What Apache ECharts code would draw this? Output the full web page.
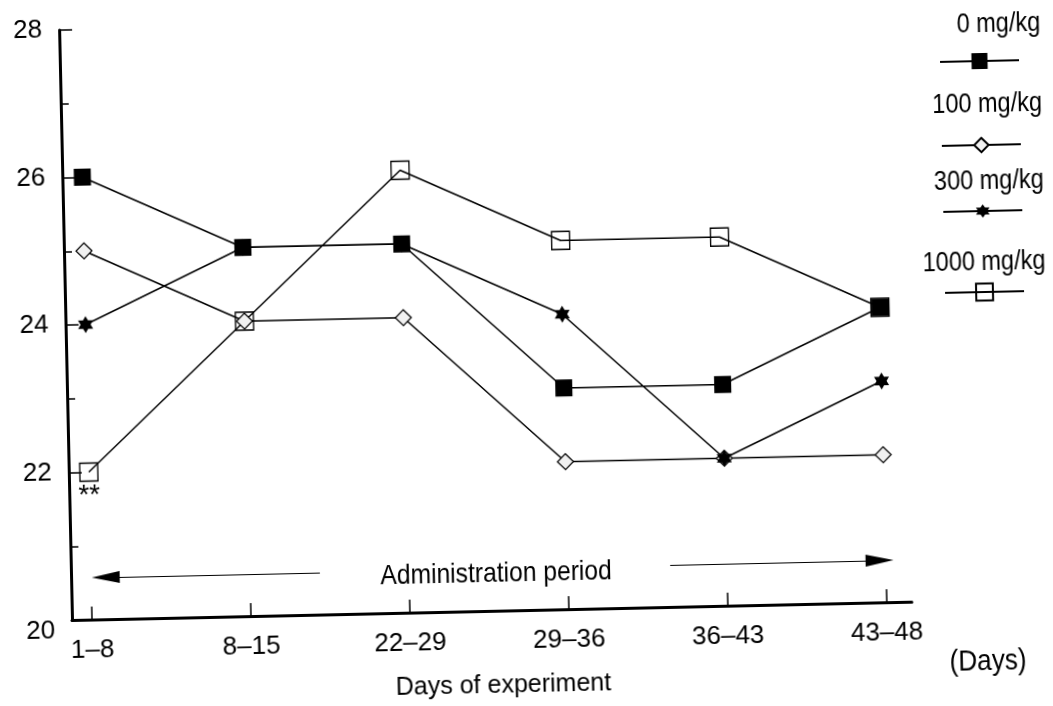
<!DOCTYPE html>
<html>
<head>
<meta charset="utf-8">
<script src="https://cdn.jsdelivr.net/npm/echarts@6/dist/echarts.min.js"></script>
<style>
html, body { margin: 0; padding: 0; overflow: hidden; background: #fff; width: 1053px; height: 706px; }
#c { position: absolute; left: 0; top: 0; width: 1120px; height: 760px;
     transform-origin: 72px 620px; transform: rotate(-1.25deg); }
</style>
</head>
<body>
<div id="c"></div>
<script>
// ---- data ----
const categories = ['1–8', '8–15', '22–29', '29–36', '36–43', '43–48'];
const seriesNames = ['0 mg/kg', '100 mg/kg', '300 mg/kg', '1000 mg/kg'];
const dose0 = [26, 25, 25, 23, 23, 24];
const dose100 = [25, 24, 24, 22, 22, 22];
const dose300 = [24, 25, 25, 24, 22, 23];
const dose1000 = [22, 24, 26, 25, 25, 24];
const marks1000 = ['**', '', '', '', '', ''];
const yTickValues = [20, 22, 24, 26, 28];
const arrowSpans = [[1.44, 0.092], [3.645, 4.963]];
const arrowLevel = 20.57;

// ---- styles ----
const NARROW = "'Liberation Sans Narrow', 'Arial Narrow', 'Liberation Sans', Arial, sans-serif";
const REG = "'Liberation Sans', Arial, sans-serif";
const hexagram = 'path://M0,-10 L2.887,-5 L8.66,-5 L5.774,0 L8.66,5 L2.887,5 L0,10 L-2.887,5 L-8.66,5 L-5.774,0 L-8.66,-5 L-2.887,-5 Z';
const lineStyle = { color: '#000', width: 1.5 };

const styles = [
  { symbol: 'rect', symbolSize: 17, itemStyle: { color: '#000', borderColor: '#000', borderWidth: 0 }, z: 5, legendH: 20 },
  { symbol: 'diamond', symbolSize: 16, itemStyle: { color: '#f1f1f1', borderColor: '#000', borderWidth: 1.2 }, z: 3, legendH: 18 },
  { symbol: hexagram, symbolSize: [15, 17], itemStyle: { color: '#000', borderColor: '#000', borderWidth: 0 }, z: 4, legendH: 17 },
  { symbol: 'rect', symbolSize: 18, itemStyle: { color: 'rgba(255,255,255,0)', borderColor: '#000', borderWidth: 1.3 }, z: 2, legendH: 21 }
];
const values = [dose0, dose100, dose300, dose1000];
const legendLineY = [81, 165, 231, 312];
const legendTextY = [45, 125, 202, 283];

const series = values.map((arr, s) => {
  const st = styles[s];
  const ser = {
    name: seriesNames[s],
    type: 'line',
    z: st.z,
    symbol: st.symbol,
    symbolSize: st.symbolSize,
    showAllSymbol: true,
    itemStyle: st.itemStyle,
    lineStyle: lineStyle,
    emphasis: { disabled: true },
    data: arr.map((v, i) => {
      const item = { value: [i, v] };
      if (s === 3 && marks1000[i]) {
        item.label = { show: true, formatter: marks1000[i], position: 'bottom', distance: 0,
                       fontSize: 28, fontFamily: REG, color: '#000' };
      }
      return item;
    })
  };
  if (s === 3) {
    ser.markLine = {
      silent: true,
      symbol: ['none', 'triangle'],
      symbolSize: [12, 28],
      label: { show: false },
      lineStyle: { color: '#000', width: 1.2, type: 'solid' },
      itemStyle: { color: '#000' },
      animation: false,
      data: arrowSpans.map(sp => [{ coord: [sp[0], arrowLevel] }, { coord: [sp[1], arrowLevel] }])
    };
  }
  return ser;
});

const legends = seriesNames.map((n, i) => ({
  data: [n],
  left: 951,
  top: legendLineY[i] - styles[i].legendH / 2,
  itemWidth: 79,
  itemHeight: styles[i].legendH,
  padding: 0,
  selectedMode: false,
  formatter: () => '',
  textStyle: { fontSize: 1 }
}));

const graphics = seriesNames.map((n, i) => ({
  type: 'text', x: 1053, y: legendTextY[i], scaleX: 0.87,
  style: { text: n, align: 'right', verticalAlign: 'middle', font: '27px ' + NARROW, fill: '#000' }
}));
graphics.push({ type: 'text', x: 497, y: 583, scaleX: 0.88,
  style: { text: 'Administration period', align: 'center', verticalAlign: 'middle', font: '28px ' + NARROW, fill: '#000' } });
graphics.push({ type: 'text', x: 987, y: 682, scaleX: 0.9,
  style: { text: '(Days)', align: 'center', verticalAlign: 'middle', font: '29px ' + NARROW, fill: '#000' } });

const chart = echarts.init(document.getElementById('c'), null, { renderer: 'canvas' });
chart.setOption({
  animation: false,
  backgroundColor: '#fff',
  grid: { left: 72, top: 30, width: 840, height: 590, containLabel: false },
  legend: legends,
  graphic: graphics,
  xAxis: {
    type: 'value',
    min: -0.126,
    max: 5.16,
    splitLine: { show: false },
    axisLine: { onZero: false, lineStyle: { color: '#000', width: 3 } },
    axisTick: { inside: true, length: 13, customValues: [0, 1, 2, 3, 4, 5], lineStyle: { color: '#000', width: 1.5 } },
    axisLabel: { customValues: [0, 1, 2, 3, 4, 5], formatter: v => categories[Math.round(v)],
                 fontFamily: NARROW, fontSize: 26, color: '#000', margin: 18 },
    name: 'Days of experiment',
    nameLocation: 'middle',
    nameGap: 63,
    nameTextStyle: { fontFamily: NARROW, fontSize: 25, color: '#000', padding: [0, 0, 0, 20] }
  },
  yAxis: {
    type: 'value',
    min: 20,
    max: 28,
    interval: 2,
    splitLine: { show: false },
    axisLine: { onZero: false, lineStyle: { color: '#000', width: 3 } },
    axisTick: { inside: true, length: 13, lineStyle: { color: '#000', width: 1.5 } },
    minorTick: { show: true, splitNumber: 2, length: 8, lineStyle: { color: '#000', width: 1.5 } },
    minorSplitLine: { show: false },
    axisLabel: {
      fontFamily: REG, fontSize: 26, color: '#000', margin: 17,
      formatter: v => (v === yTickValues[0] ? '{low|' + v + '}' : String(v)),
      rich: { low: { fontFamily: REG, fontSize: 26, color: '#000', padding: [22, 0, 0, 0] } }
    }
  },
  series: series
});
</script>
</body>
</html>
